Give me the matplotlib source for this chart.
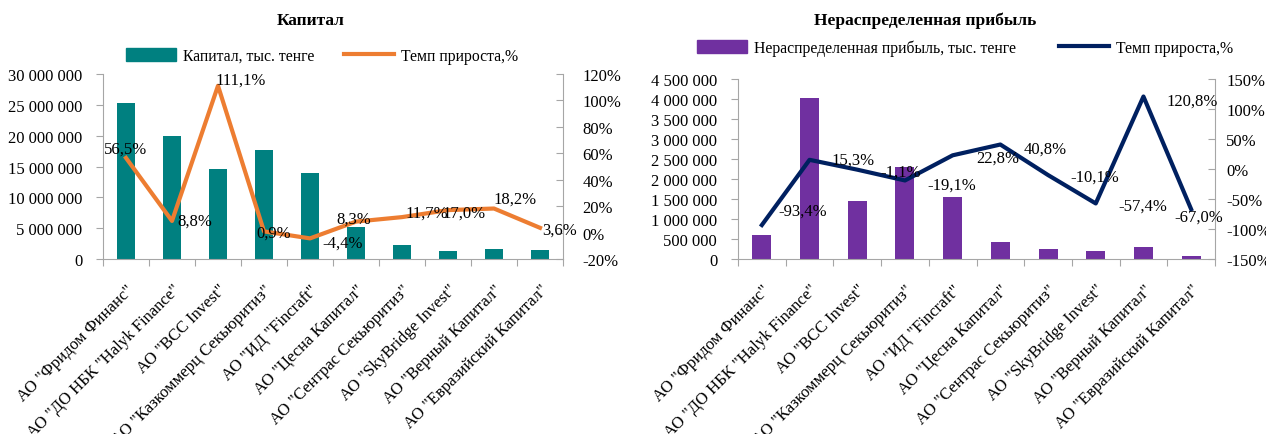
import numpy as np
import matplotlib.pyplot as plt
from matplotlib.patches import Patch
from matplotlib.lines import Line2D
from matplotlib.ticker import FuncFormatter, MultipleLocator

plt.rcParams['font.family'] = ['Liberation Serif', 'DejaVu Serif']

# data
companies = ['АО "Фридом Финанс"', 'АО "ДО НБК "Halyk Finance"', 'АО "BCC Invest"',
             'АО "Казкоммерц Секьюритиз"', 'АО "ИД "Fincraft"', 'АО "Цесна Капитал"',
             'АО "Сентрас Секьюритиз"', 'АО "SkyBridge Invest"', 'АО "Верный Капитал"',
             'АО "Евразийский Капитал"']
capital = [25250000, 20000000, 14560000, 17670000, 13900000, 5200000,
           2200000, 1250000, 1700000, 1420000]
capital_growth = [56.5, 8.8, 111.1, 0.9, -4.4, 8.3, 11.7, 17.0, 18.2, 3.6]
profit = [594000, 4020000, 1460000, 2310000, 1556000, 427000,
          243000, 200000, 310000, 67000]
profit_growth = [-93.4, 15.3, -1.1, -19.1, 22.8, 40.8, -10.1, -57.4, 120.8, -67.0]

# label offsets in pixels (dx, dy)
cap_offsets = [(0, 9), (23, 0), (23, 6), (10, -1), (33, -4), (-2, 3),
               (25, 4), (16, -3), (21, 10), (20, -2)]
prof_offsets = [(41, 14), (43, 0), (43, -2), (47, -4), (45, -2), (45, -4),
                (47, -2), (47, -2), (49, -4), (8, -7)]

FS = 12
GRAY = '#A6A6A6'


def space_fmt(v, pos):
    return f'{int(round(v)):,}'.replace(',', ' ')


def pct_fmt(v, pos):
    return f'{int(round(v))}%'


def fmt_label(v):
    return f'{v:.1f}%'.replace('.', ',')


def draw(ax, bars, growth, bar_color, line_color, ymax, ystep, pmin, pmax, pstep,
         offsets, rpad):
    x = np.arange(len(bars))
    ax.bar(x, bars, width=0.4, color=bar_color, zorder=2)
    ax.set_xlim(-0.5, len(bars) - 0.5)
    ax.set_ylim(0, ymax)
    ax.yaxis.set_major_locator(MultipleLocator(ystep))
    ax.yaxis.set_major_formatter(FuncFormatter(space_fmt))
    ax.set_xticks(np.arange(-0.5, len(bars), 1.0))
    ax.set_xticklabels([])
    ax.set_xticks(x, minor=True)
    ax.set_xticklabels(companies, minor=True, rotation=45, ha='right',
                       rotation_mode='anchor', fontsize=FS)
    ax.tick_params(axis='x', which='minor', length=0, pad=16)
    ax.tick_params(axis='x', which='major', length=5, color=GRAY, direction='out')
    ax.tick_params(axis='y', length=5, color=GRAY, direction='out', labelsize=FS, pad=10)
    for s in ['top', 'right']:
        ax.spines[s].set_visible(False)
    for s in ['left', 'bottom']:
        ax.spines[s].set_color(GRAY)

    ax2 = ax.twinx()
    ax2.plot(x, growth, color=line_color, lw=3, zorder=3)
    ax2.set_ylim(pmin, pmax)
    ax2.yaxis.set_major_locator(MultipleLocator(pstep))
    ax2.yaxis.set_major_formatter(FuncFormatter(pct_fmt))
    ax2.tick_params(axis='y', length=5, color=GRAY, direction='in', labelsize=FS, pad=rpad)
    for s in ['top', 'left', 'bottom']:
        ax2.spines[s].set_visible(False)
    ax2.spines['right'].set_color(GRAY)
    for xi, g, (dx, dy) in zip(x, growth, offsets):
        ax2.annotate(fmt_label(g), (xi, g), xytext=(dx, dy), textcoords='offset pixels',
                     ha='center', va='center', fontsize=FS, zorder=4)
    return ax2


fig = plt.figure(figsize=(12.66, 4.35), dpi=100)
ax_l = fig.add_axes([103 / 1266, 1 - 260 / 435, (563 - 103) / 1266, (260 - 75) / 435])
ax_r = fig.add_axes([738 / 1266, 1 - 260 / 435, (1215 - 738) / 1266, (260 - 80) / 435])

draw(ax_l, capital, capital_growth, '#008080', '#ED7D31', 30000000, 5000000,
     -20, 120, 20, cap_offsets, 14)
draw(ax_r, profit, profit_growth, '#7030A0', '#002060', 4500000, 500000,
     -150, 150, 50, prof_offsets, 8)

fig.text(311 / 1266, 1 - 21 / 435, 'Капитал', ha='center', va='center',
         fontsize=12.5, fontweight='bold')
fig.text(925 / 1266, 1 - 21 / 435, 'Нераспределенная прибыль', ha='center', va='center',
         fontsize=12.5, fontweight='bold')

LFS = 11.3
fig.legend(handles=[Patch(color='#008080', label='Капитал, тыс. тенге'),
                    Line2D([], [], color='#ED7D31', lw=3, label='Темп прироста,%')],
           loc='center', bbox_to_anchor=(322 / 1266, 1 - 57 / 435), ncol=2,
           frameon=False, fontsize=LFS, handlelength=3.2, handleheight=0.9,
           handletextpad=0.45, columnspacing=1.9)
fig.legend(handles=[Patch(color='#7030A0', label='Нераспределенная прибыль, тыс. тенге'),
                    Line2D([], [], color='#002060', lw=3, label='Темп прироста,%')],
           loc='center', bbox_to_anchor=(965 / 1266, 1 - 49 / 435), ncol=2,
           frameon=False, fontsize=LFS, handlelength=3.2, handleheight=0.9,
           handletextpad=0.45, columnspacing=2.7)

fig.savefig('out.png', dpi=100)
